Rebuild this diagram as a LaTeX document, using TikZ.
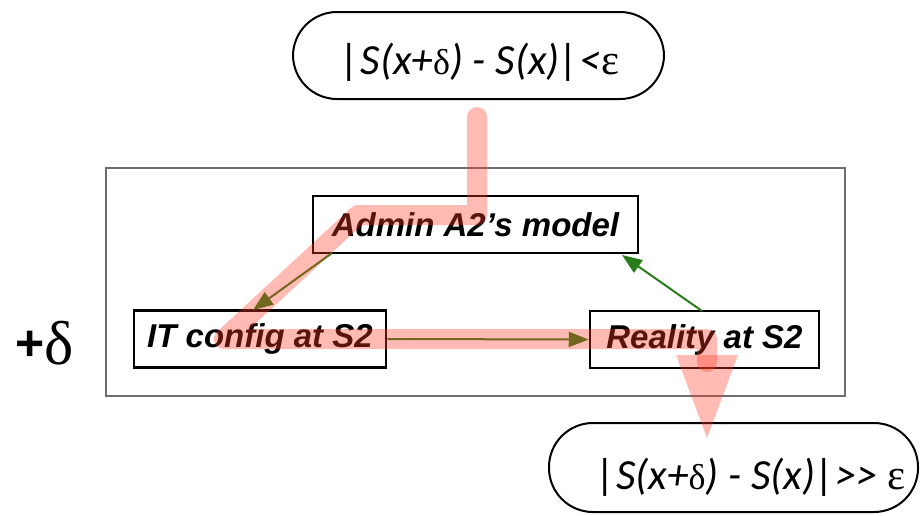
\documentclass[tikz,border=0pt]{standalone}
\usepackage{fontspec}
\setmainfont{Liberation Serif}
\setsansfont{Liberation Sans}
\newfontfamily\calfont{Carlito}
\newfontfamily\symfont{Liberation Serif}
\usetikzlibrary{arrows.meta}
\definecolor{flowgreen}{RGB}{40,125,25}
\definecolor{tracered}{RGB}{255,60,40}
\definecolor{framegray}{RGB}{110,110,110}
\newcommand{\dlt}{{\symfont\upshape\fontsize{36}{40}\selectfont δ}}
\newcommand{\eps}{{\symfont\upshape ε}}
\begin{document}
\begin{tikzpicture}[x=1pt,y=-1pt,
  stepbox/.style={draw=black,line width=2.5pt,fill=white,inner sep=0pt,
    minimum height=57pt,font=\sffamily\bfseries\itshape\fontsize{33}{38}\selectfont},
  pill/.style={draw=black,line width=2pt,rounded corners=44pt,inner sep=0pt},
  formula/.style={font=\calfont\itshape\fontsize{43}{48}\selectfont,inner sep=0pt},
  flow/.style={flowgreen,line width=2pt,-{Triangle[length=20pt,width=15pt]}},
  trace/.style={tracered,opacity=0.35,line width=20pt,line cap=round,line join=round}]
\useasboundingbox (0,0) rectangle (920,515);

% enclosing frame
\node[draw=framegray,line width=1.5pt,minimum width=739pt,minimum height=228pt,inner sep=0pt]
  (frame) at (475.5,282) {};

% condition pills
\node[pill,minimum width=371pt,minimum height=87pt] (toppill) at (478.5,55.5) {};
\node[formula] (toptext) at (480,62) {|S(x+\dlt) - S(x)|<\eps};
\node[pill,minimum width=369pt,minimum height=89pt] (botpill) at (733.5,467.5) {};
\node[formula] (bottext) at (751,477) {|S(x+\dlt) - S(x)|>> \eps};

% perturbation label
\node[inner sep=0pt] (pert) at (45,343)
  {\raisebox{4pt}{\sffamily\bfseries\fontsize{50}{56}\selectfont +}\fontsize{62}{66}\selectfont δ};

% the three stages
\node[stepbox,minimum width=325pt] (model) at (475.5,224.5) {Admin A2's model};
\node[stepbox,minimum width=252pt] (config) at (260,339) {IT config at S2};
\node[stepbox,minimum width=229pt] (reality) at (704.5,339.5) {Reality at S2};

% feedback loop
\coordinate (m1) at (332,253);
\coordinate (c1) at (253,310);
\coordinate (r1) at (702,311);
\coordinate (m2) at (622,255);
\draw[flow] (m1) -- (c1);
\draw[flow] (config.east) -- (reality.west);
\draw[flow] (r1) -- (m2);

% propagation trace
\coordinate (t0) at (477,117);
\coordinate (t1) at (477,215);
\coordinate (t2) at (358,215);
\coordinate (t3) at (224,339);
\coordinate (t4) at (707,339);
\coordinate (t5) at (707,362);
\coordinate (tip) at (707,438);
\draw[trace] (t0) -- (t1) -- (t2) -- (t3) -- (t4) -- (t5);
\fill[tracered,opacity=0.35] (676,355) -- (738,355) -- (tip) -- cycle;
\end{tikzpicture}
\end{document}
